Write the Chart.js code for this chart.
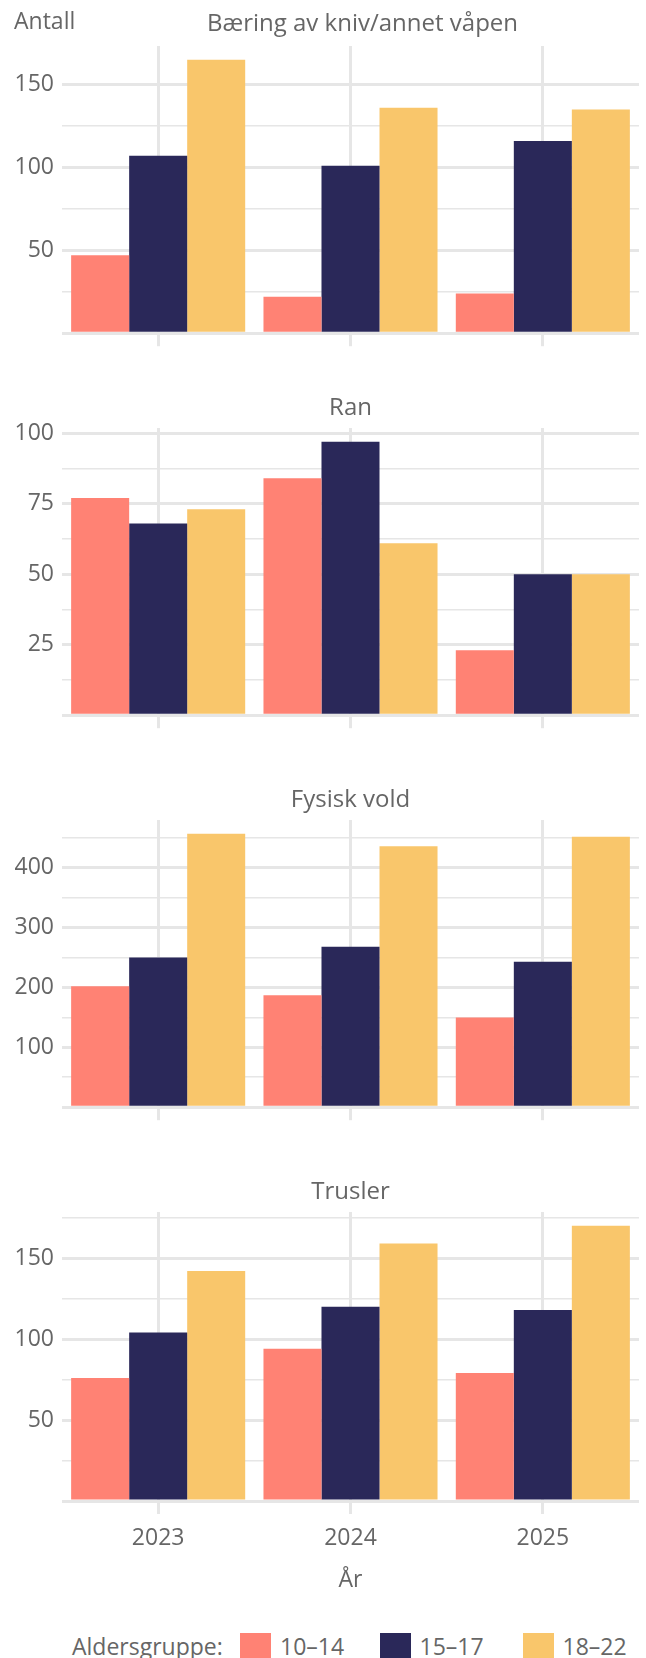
<!DOCTYPE html>
<html><head><meta charset="utf-8">
<script src="https://cdn.jsdelivr.net/npm/chart.js@4.4.1/dist/chart.umd.min.js"></script>
<style>
html,body{margin:0;padding:0;background:#fff;overflow:hidden;}
#wrap{position:relative;width:646px;height:1658px;font-family:'Open Sans',sans-serif;color:#666;overflow:hidden;}
canvas{position:absolute;left:0;}
.lg{position:absolute;font-size:23px;line-height:23px;white-space:nowrap;color:#666;}
.sw{position:absolute;width:31px;height:31px;}
</style></head><body><div id="wrap">
<canvas id="c0" width="646" height="355" style="top:0px;width:646px;height:355px"></canvas>
<canvas id="c1" width="646" height="355" style="top:382px;width:646px;height:355px"></canvas>
<canvas id="c2" width="646" height="355" style="top:774px;width:646px;height:355px"></canvas>
<canvas id="c3" width="646" height="434" style="top:1166px;width:646px;height:434px"></canvas>
</div>
<script>
// ---- data ----
const years = ['2023', '2024', '2025'];
const ageGroups = ['10–14', '15–17', '18–22'];
const panelTitles = ['Bæring av kniv/annet våpen', 'Ran', 'Fysisk vold', 'Trusler'];
const yAxisLabel = 'Antall';
const xAxisLabel = 'År';
const legendTitle = 'Aldersgruppe:';

const kniv1014 = [47, 22, 24];
const kniv1517 = [107, 101, 116];
const kniv1822 = [165, 136, 135];

const ran1014 = [77, 84, 23];
const ran1517 = [68, 97, 50];
const ran1822 = [73, 61, 50];

const vold1014 = [202, 187, 150];
const vold1517 = [250, 268, 243];
const vold1822 = [457, 436, 452];

const trusler1014 = [76, 94, 79];
const trusler1517 = [104, 120, 118];
const trusler1822 = [142, 159, 170];

const majorSteps = [50, 25, 100, 50];

// ---- style ----
const seriesColors = ['#FF8274', '#2A2859', '#F9C66B'];
const textColor = '#666666';
const gridColor = '#e6e6e6';
const FONT = "'Open Sans', sans-serif";

const panelText = {
  id: 'panelText',
  afterDraw(chart, args, opts) {
    const {ctx, chartArea} = chart;
    ctx.save();
    ctx.fillStyle = textColor;
    ctx.textBaseline = 'alphabetic';
    ctx.font = "24px " + FONT;
    ctx.textAlign = 'center';
    ctx.fillText(opts.title, (chartArea.left + chartArea.right) / 2 + opts.dx, chartArea.top - opts.gap);
    if (opts.yLabel) {
      ctx.font = "23px " + FONT;
      ctx.textAlign = 'left';
      ctx.fillText(opts.yLabel, 14, 28.5);
    }
    ctx.restore();
  }
};

function makeChart(id, idx, s1, s2, s3, isLast) {
  const major = majorSteps[idx];
  const maxVal = Math.max(...s1, ...s2, ...s3) * 1.05;
  const axisH = isLast ? 99 : 20;
  return new Chart(document.getElementById(id), {
    type: 'bar',
    data: {
      labels: years,
      datasets: [
        {label: ageGroups[0], data: s1, backgroundColor: seriesColors[0]},
        {label: ageGroups[1], data: s2, backgroundColor: seriesColors[1]},
        {label: ageGroups[2], data: s3, backgroundColor: seriesColors[2]}
      ]
    },
    options: {
      responsive: false,
      animation: false,
      events: [],
      layout: {padding: {top: 46, left: 0, right: 7, bottom: 0}},
      datasets: {bar: {categoryPercentage: 0.905, barPercentage: 1.0, borderWidth: 0}},
      plugins: {
        legend: {display: false},
        tooltip: {enabled: false},
        panelText: {
          title: panelTitles[idx],
          gap: idx === 0 ? 15 : 13.5,
          dx: idx === 0 ? 12 : 0,
          yLabel: idx === 0 ? yAxisLabel : null
        }
      },
      scales: {
        x: {
          type: 'category',
          border: {display: false},
          grid: {offset: false, color: gridColor, lineWidth: 3, drawTicks: true, tickLength: 13, tickColor: gridColor, tickWidth: 3},
          ticks: {display: isLast, color: textColor, font: {family: FONT, size: 23}, padding: 11, maxRotation: 0},
          title: {display: isLast, text: xAxisLabel, color: textColor, font: {family: FONT, size: 23}, padding: {top: 0, bottom: 6}},
          afterFit: (s) => { s.height = axisH; }
        },
        y: {
          min: 0,
          max: maxVal,
          border: {display: false},
          grid: {
            color: gridColor,
            drawTicks: false,
            lineWidth: (c) => (c.tick && c.tick.value % major === 0) ? 3 : 1.6
          },
          ticks: {
            stepSize: major / 2,
            includeBounds: false,
            autoSkip: false,
            padding: 8,
            color: textColor,
            font: {family: FONT, size: 23},
            callback: (v) => (v !== 0 && v % major === 0) ? String(v) : ''
          },
          afterFit: (s) => { s.width = 62; }
        }
      }
    },
    plugins: [panelText]
  });
}

makeChart('c0', 0, kniv1014, kniv1517, kniv1822, false);
makeChart('c1', 1, ran1014, ran1517, ran1822, false);
makeChart('c2', 2, vold1014, vold1517, vold1822, false);
makeChart('c3', 3, trusler1014, trusler1517, trusler1822, true);

// ---- legend (HTML) ----
const legendTextLeft = [280, 419.5, 562.5];
const legendSwatchLeft = [240, 380, 523];
function addEl(cls, left, top, text, bg) {
  const d = document.createElement('div');
  d.className = cls;
  d.style.left = left + 'px';
  d.style.top = top + 'px';
  if (text) d.textContent = text;
  if (bg) d.style.background = bg;
  document.getElementById('wrap').appendChild(d);
}
addEl('lg', 72, 1635, legendTitle);
ageGroups.forEach((g, i) => {
  addEl('sw', legendSwatchLeft[i], 1633, null, seriesColors[i]);
  addEl('lg', legendTextLeft[i], 1635, g);
});
</script>
</body></html>
